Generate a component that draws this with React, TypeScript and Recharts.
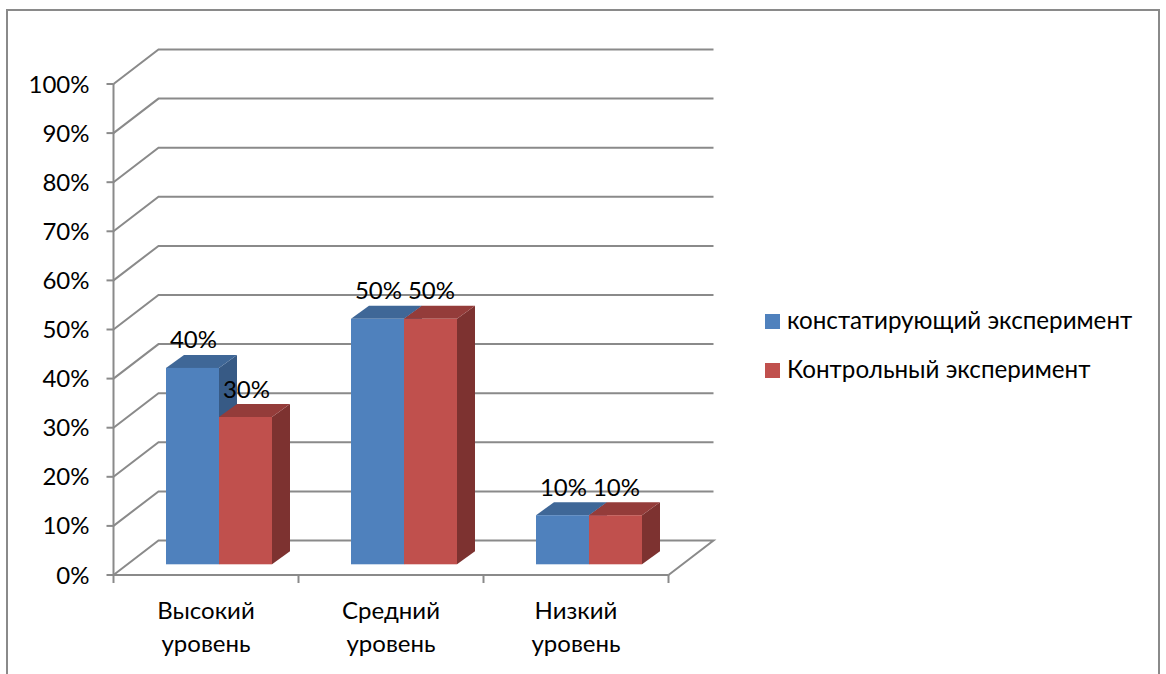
import React from "react";
import { BarChart, Bar, XAxis, YAxis, CartesianGrid, Legend, LabelList } from "recharts";

const categories = ["Высокий уровень", "Средний уровень", "Низкий уровень"];
const seriesA = [40, 50, 10];
const seriesB = [30, 50, 10];
const nameA = "констатирующий эксперимент";
const nameB = "Контрольный эксперимент";
const yTicks = [0, 10, 20, 30, 40, 50, 60, 70, 80, 90, 100];

const data = categories.map((c, i) => ({ c, a: seriesA[i], b: seriesB[i] }));

const W = 1166, H = 674;
const LEFT = 113.5, RIGHT = 668.5, TOP = 84, BOTTOM = 575;
const GREY = "#8a8a8a", FONT = "Lato, 'Noto Sans', sans-serif", FS = 24;
const WALL_DX = 45, WALL_DY = 34.5;
const BAR_DX = 12.5, BAR_DY = 10.7, DEPTH_X = 18, DEPTH_Y = 13;
const BAND = (RIGHT - LEFT) / categories.length;

const bar3d = (top: string, side: string) => (p: any) => {
  const x = p.x + BAR_DX, y = p.y - BAR_DY, w = p.width, h = p.height;
  return (
    <g>
      <path d={`M${x + w},${y} l${DEPTH_X},${-DEPTH_Y} v${h} l${-DEPTH_X},${DEPTH_Y} Z`} fill={side} />
      <path d={`M${x},${y} l${DEPTH_X},${-DEPTH_Y} h${w} l${-DEPTH_X},${DEPTH_Y} Z`} fill={top} />
      <rect x={x} y={y} width={w} height={h} fill={p.fill} />
    </g>
  );
};

const gridLine = (p: any) => {
  const isFloor = Math.abs(p.y1 - BOTTOM) < 0.5;
  return (
    <g key={p.y1}>
      <polyline
        points={`${LEFT},${p.y1} ${LEFT + WALL_DX},${p.y1 - WALL_DY} ${RIGHT + WALL_DX},${p.y1 - WALL_DY}${isFloor ? ` ${RIGHT},${p.y1}` : ""}`}
        fill="none" stroke={GREY} strokeWidth={2}
      />
    </g>
  );
};

const catTick = (p: any) => {
  const lines = String(p.payload.value).split(" ");
  const last = p.index === categories.length - 1;
  return (
    <g>
      <line x1={p.x - BAND / 2} x2={p.x - BAND / 2} y1={BOTTOM} y2={BOTTOM + 8} stroke={GREY} strokeWidth={2} />
      {last && <line x1={p.x + BAND / 2} x2={p.x + BAND / 2} y1={BOTTOM} y2={BOTTOM + 8} stroke={GREY} strokeWidth={2} />}
      {lines.map((l, i) => (
        <text key={l} x={p.x} y={BOTTOM + 44 + i * 33} textAnchor="middle" fontFamily={FONT} fontSize={FS} fill="#000">{l}</text>
      ))}
    </g>
  );
};

const valueLabel = (p: any) => (
  <text x={p.x + p.width / 2 + BAR_DX + 1} y={p.y - BAR_DY - 19.5} textAnchor="middle" fontFamily={FONT} fontSize={FS} fill="#000">
    {p.value}%
  </text>
);

const legendContent = () => (
  <div style={{ fontFamily: FONT, fontSize: 24.2, color: "#000" }}>
    {[{ n: nameA, c: "#4F81BD" }, { n: nameB, c: "#C0504D" }].map((e, i) => (
      <div key={e.n} style={{ position: "absolute", left: 0, top: i * 49, height: 24, display: "flex", alignItems: "center", whiteSpace: "nowrap" }}>
        <span style={{ width: 15, height: 15, background: e.c, marginRight: 7, display: "inline-block", position: "relative", top: 2.5 }} />
        {e.n}
      </div>
    ))}
  </div>
);

export default function App() {
  return (
    <div style={{ position: "fixed", left: 0, top: 0, width: W, height: H, overflow: "hidden", background: "#fff" }}>
      <div style={{ position: "absolute", left: 6, top: 9, width: 1150, height: 700, border: `2px solid ${GREY}`, boxSizing: "content-box" }} />
      <div style={{ position: "absolute", left: 0, top: 0 }}>
        <BarChart
          width={W} height={H} data={data} barGap={0} barSize={53}
          margin={{ left: 0, top: TOP, right: W - RIGHT, bottom: 0 }}
        >
          <CartesianGrid vertical={false} horizontal={gridLine} />
          <XAxis dataKey="c" height={H - BOTTOM} axisLine={{ stroke: GREY, strokeWidth: 2 }} tickLine={false} tick={catTick} interval={0} />
          <YAxis
            width={LEFT} domain={[0, 100]} ticks={yTicks} interval={0} tickFormatter={(v: number) => `${v}%`}
            axisLine={{ stroke: GREY, strokeWidth: 2 }} tickLine={{ stroke: GREY, strokeWidth: 2 }} tickSize={7} tickMargin={17}
            tick={{ fontFamily: FONT, fontSize: FS, fill: "#000" }}
          />
          <Legend content={legendContent} layout="horizontal" verticalAlign="middle" wrapperStyle={{ position: "absolute", left: 765, top: 307, width: 390, height: 80, bottom: "auto", right: "auto" }} />
          <Bar dataKey="a" name={nameA} fill="#4F81BD" shape={bar3d("#3F6797", "#375A85")} isAnimationActive={false}>
            <LabelList dataKey="a" content={valueLabel} />
          </Bar>
          <Bar dataKey="b" name={nameB} fill="#C0504D" shape={bar3d("#943C3A", "#7D3230")} isAnimationActive={false}>
            <LabelList dataKey="b" content={valueLabel} />
          </Bar>
        </BarChart>
      </div>
    </div>
  );
}
